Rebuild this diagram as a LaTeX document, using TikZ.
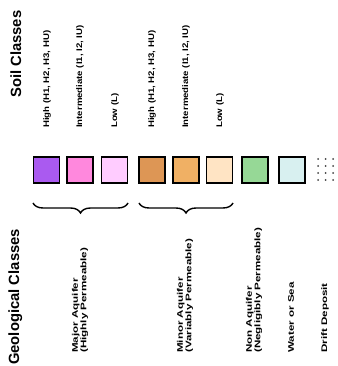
\documentclass[tikz,border=0pt]{standalone}
\usepackage{fontspec}
\setmainfont{Liberation Sans}
\usetikzlibrary{decorations.pathreplacing}
\definecolor{cpurple}{RGB}{170,90,240}
\definecolor{cpink}{RGB}{255,136,221}
\definecolor{clpink}{RGB}{255,204,255}
\definecolor{cbrown}{RGB}{221,150,85}
\definecolor{corange}{RGB}{240,176,100}
\definecolor{cpeach}{RGB}{255,228,196}
\definecolor{cgreen}{RGB}{150,216,150}
\definecolor{ccyan}{RGB}{216,240,240}
\begin{document}
\begin{tikzpicture}[x=1pt,y=1pt,
  swatch/.style={draw=black, line width=1.3pt, minimum width=26pt, minimum height=26pt, inner sep=0pt, anchor=center},
  soillab/.style={rotate=90, yscale=0.85, anchor=west, inner sep=0pt, font=\fontsize{9.6}{12}\selectfont\bfseries},
  geolab/.style={rotate=90, yscale=0.7, anchor=west, inner sep=0pt, align=left, font=\fontsize{11.6}{12}\selectfont\bfseries},
  titlelab/.style={rotate=90, anchor=base west, inner sep=0pt, font=\fontsize{14.8}{18}\selectfont\bfseries},
  brc/.style={decorate, decoration={brace, amplitude=10pt}, line width=1.4pt},
  dotmark/.style={fill=black!75, circle, inner sep=0pt, minimum size=2pt}]
\useasboundingbox (0,0) rectangle (337,366);
% titles
\node[titlelab] (tsoil) at (21,268) {Soil Classes};
\node[titlelab] (tgeo) at (19,1) {Geological Classes};
% swatches
\node[swatch, fill=cpurple] (s1) at (46.5,196) {};
\node[swatch, fill=cpink]   (s2) at (80,196) {};
\node[swatch, fill=clpink]  (s3) at (114.5,196) {};
\node[swatch, fill=cbrown]  (s4) at (152,196) {};
\node[swatch, fill=corange] (s5) at (186,196) {};
\node[swatch, fill=cpeach]  (s6) at (219.5,196) {};
\node[swatch, fill=cgreen]  (s7) at (255,196) {};
\node[swatch, fill=ccyan]   (s8) at (292,196) {};
% drift dots
\foreach \i/\xx in {1/318,2/325.5,3/333}{
  \foreach \j/\yy in {1/207,2/200,3/193,4/186}{
    \node[dotmark] (d\i\j) at (\xx,\yy) {};
  }
}
% soil labels
\node[soillab] (l1) at (47,238) {High (H1, H2, H3, HU)};
\node[soillab] (l2) at (80,238) {Intermediate (I1, I2, IU)};
\node[soillab] (l3) at (115,238) {Low (L)};
\node[soillab] (l4) at (152,238) {High (H1, H2, H3, HU)};
\node[soillab] (l5) at (186,238) {Intermediate (I1, I2, IU)};
\node[soillab] (l6) at (220,238) {Low (L)};
% braces
\coordinate (b1r) at (128,163);
\coordinate (b1l) at (33,163);
\coordinate (b2r) at (233,163);
\coordinate (b2l) at (139,163);
\draw[brc] (b1r) -- (b1l);
\draw[brc] (b2r) -- (b2l);
% geological labels
\node[geolab] (g1) at (80,13) {Major Aquifer\\(Highly Permeable)};
\node[geolab] (g2) at (185,13) {Minor Aquifer\\(Variably Permeable)};
\node[geolab] (g3) at (254,13) {Non Aquifer\\(Negligibly Permeable)};
\node[geolab] (g4) at (291,13) {Water or Sea};
\node[geolab] (g5) at (325,13) {Drift Deposit};
\end{tikzpicture}
\end{document}
